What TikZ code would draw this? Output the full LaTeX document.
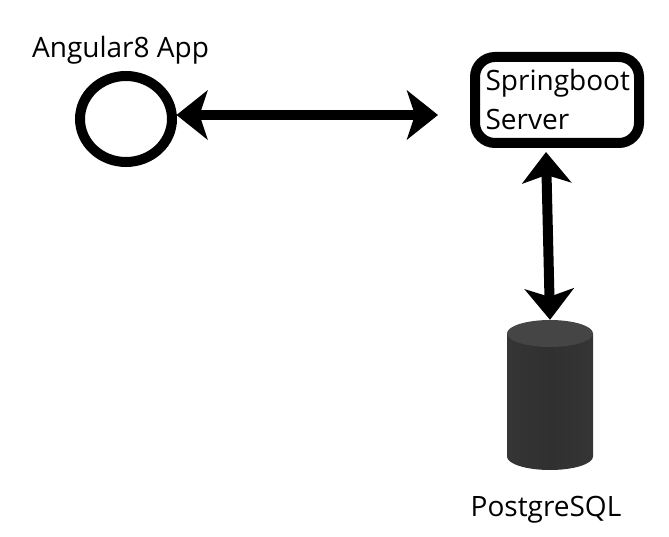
\documentclass[tikz,border=0pt]{standalone}
\usepackage{fontspec}
\setmainfont{Open Sans}
\usetikzlibrary{arrows.meta,shapes.geometric}
\definecolor{dbbody}{HTML}{313030}
\definecolor{dbedge}{HTML}{353535}
\definecolor{dbtop}{HTML}{464545}
\tikzset{
  lbl/.style={inner sep=0pt,font=\fontsize{28}{39}\selectfont},
  outlined/.style={draw=black,line width=10pt,fill=white},
  link/.style={line width=10pt,{Stealth[length=31pt,width=49pt,inset=8pt]}-{Stealth[length=31pt,width=49pt,inset=8pt]}}
}
\begin{document}
\begin{tikzpicture}[x=1pt,y=-1pt]
\useasboundingbox (0,0) rectangle (669,537);
\node[outlined,ellipse,inner sep=0pt,minimum width=92pt,minimum height=86pt] (app) at (126,119) {};
\node[lbl,anchor=base] (applabel) at (120.5,58) {Angular8 App};
\node[outlined,rounded corners=20pt,inner sep=0pt,minimum width=164pt,minimum height=86pt,align=left,lbl] (server) at (557,100) {\hspace*{1.5pt}Springboot\\\hspace*{1.5pt}Server};
% cylinder
\node[inner sep=0pt,minimum width=86pt,minimum height=150pt] (db) at (550,395) {};
\path[left color=dbedge,right color=dbedge,middle color=dbbody]
  (507,333.5) -- (507,456.5) arc[start angle=180,end angle=360,x radius=43pt,y radius=13.5pt]
  -- (593,333.5) -- cycle;
\fill[dbtop] (550,333.5) ellipse[x radius=43pt,y radius=13.5pt];
\node[lbl,anchor=base] (dblabel) at (546,516) {PostgreSQL};
\coordinate (free) at (438,115);
\coordinate (apptip) at (176.5,115);
\coordinate (servertip) at (546,152);
\draw[link] (apptip) -- (free);
\draw[link] (servertip) -- (db.north);
\end{tikzpicture}
\end{document}
